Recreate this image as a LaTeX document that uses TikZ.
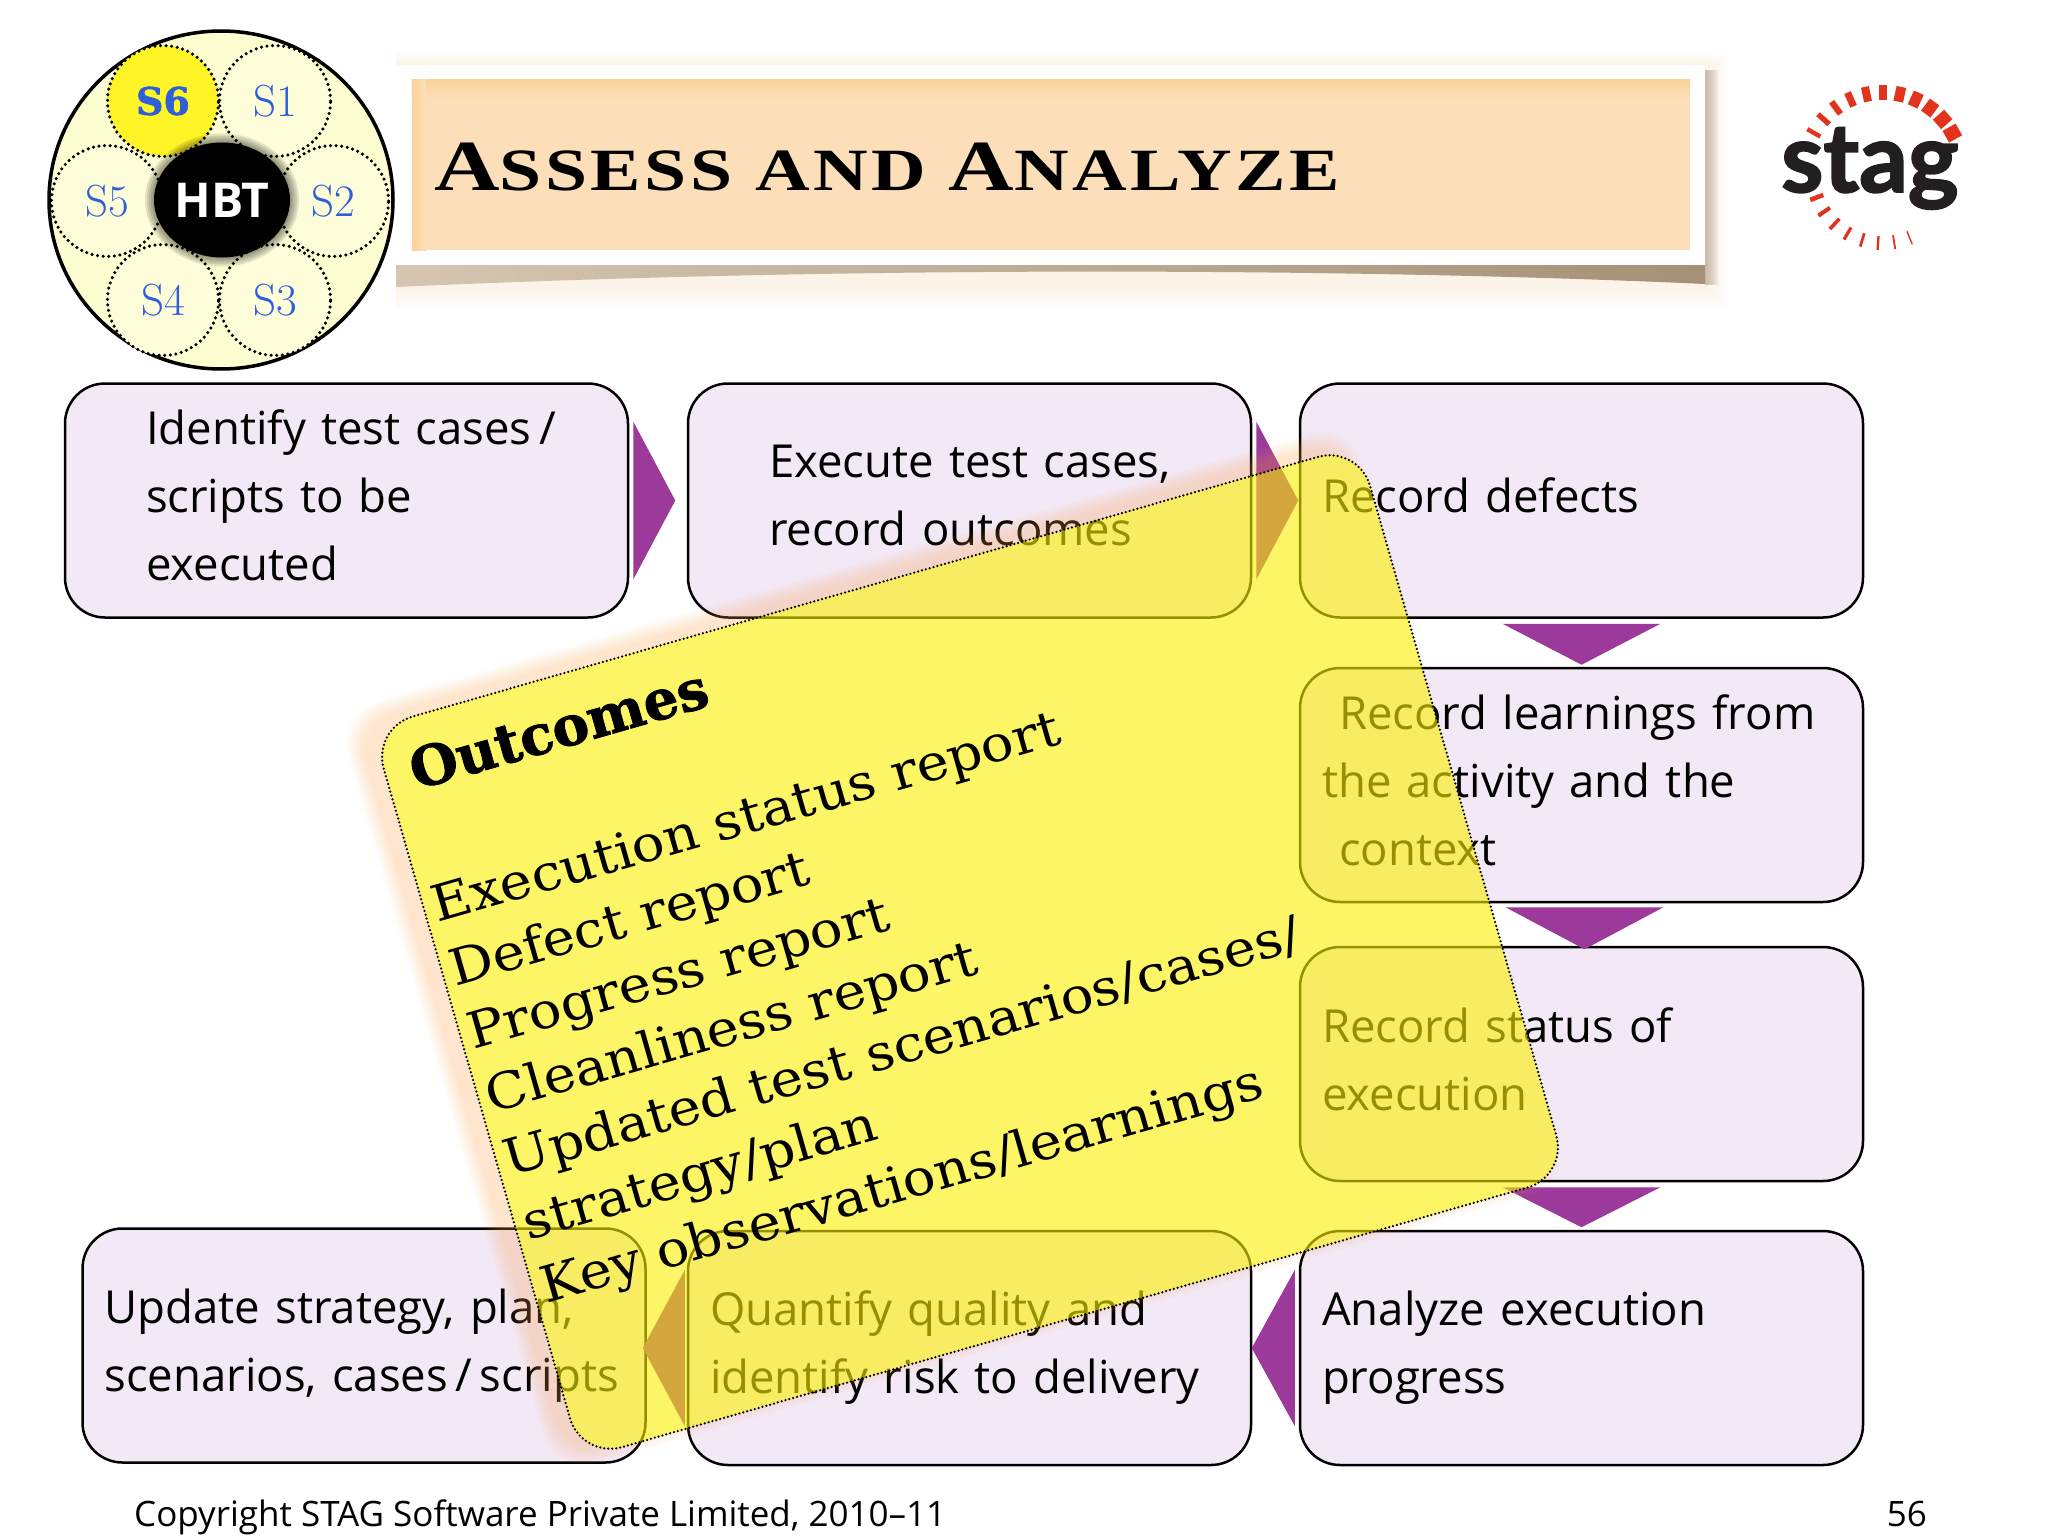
\documentclass[tikz,border=0pt]{standalone}
\usepackage{fontspec}
\usetikzlibrary{shapes.geometric}
\newfontfamily\bodyfam{Open Sans}
\newfontfamily\notefam[BoldFeatures={FakeBold=1.5}]{DejaVu Serif}
\newfontfamily\notewide[FakeStretch=1.09]{DejaVu Serif}
\newfontfamily\titlefam[FakeStretch=1.26,LetterSpace=6.0]{Liberation Serif}
\newfontfamily\logofam[BoldFeatures={FakeBold=2}]{Lato}
\definecolor{boxlilac}{HTML}{F3E8F5}
\definecolor{flowpurple}{HTML}{9C3A9B}
\definecolor{noteyellow}{HTML}{FAF000}
\definecolor{diskyellow}{HTML}{FDFDD2}
\definecolor{sblue}{HTML}{2F5FD8}
\definecolor{tickred}{HTML}{E2341D}
\definecolor{peach}{HTML}{FCDFB8}
\definecolor{peachedge}{HTML}{FAD29A}
\definecolor{logoink}{HTML}{231F20}
\newcommand{\titlecap}[1]{{\fontsize{72}{72}\selectfont #1}}
\newcommand{\lifted}{\rule[-10pt]{0pt}{0pt}}
\newcommand{\pad}{\hspace*{59pt}}
\tikzset{
  stepbox/.style={draw=black, line width=2.5pt, fill=boxlilac, rounded corners=40pt,
    minimum height=234pt, inner xsep=22pt, inner ysep=0pt, text width=519pt, align=left,
    font=\bodyfam\fontsize{45.5}{68}\selectfont},
  flow/.style={fill=flowpurple},
  stage/.style={circle, draw=black, line width=3.5pt, dash pattern=on 0pt off 5.6pt, line cap=round,
    fill=diskyellow!85!white, minimum size=111pt, inner sep=0pt, text=sblue,
    font=\fontsize{45}{45}\selectfont},
  noteline/.style={transform shape, anchor=base west, inner sep=0pt, font=\notewide\fontsize{50}{50}\selectfont},
  even odd clip/.code={\pgfseteorule}
}

\begin{document}
\begin{tikzpicture}[x=1pt,y=-1pt]
  \useasboundingbox (0,0) rectangle (2048,1536);
  \fill[white] (0,0) rectangle (2048,1536);
  % stage wheel
  \node[ellipse, draw=black, line width=3.5pt, fill=diskyellow, minimum width=344pt, minimum height=338pt, inner sep=0pt] (wheel) at (221,200) {};
  \node[stage] (s1) at (275,101) {S1};
  \node[stage] (s2) at (333,201) {S2};
  \node[stage] (s3) at (275,300) {S3};
  \node[stage] (s4) at (163,300) {S4};
  \node[stage] (s5) at (107,201) {S5};
  \node[stage, fill=yellow!85!white, font=\notefam\bfseries\fontsize{38}{38}\selectfont] (s6) at (163,101) {S6};
  \foreach \g in {1,3,...,9}
    \fill[black, opacity=0.1] (222,200) ellipse ({68+\g} and {57.5+\g});
  \node[ellipse, fill=black, text=white, minimum width=136pt, minimum height=115pt, inner sep=0pt,
    font=\bodyfam\bfseries\fontsize{48}{48}\selectfont] (hbt) at (222,200) {HBT};
  % title panel
  \foreach \g in {4,8,...,24}
    \fill[peach, opacity=0.05] (396,65-\g/2) rectangle (1705+\g,285+\g);
  \foreach \g in {2,4,...,14}
    \fill[black!35!peach, opacity=0.1] (1705,70) rectangle (1705+\g,285);
  \shade[left color=black!22!peach!70!white, right color=black!35!peach] (396,265) -- (1705,265) -- (1705,284) .. controls (1400,270) and (900,264) .. (396,287) -- cycle;
  \node[fill=white, minimum width=1309pt, minimum height=200pt, inner sep=0pt] (panel) at (1050.5,165) {};
  \node[fill=peach, minimum width=1278pt, minimum height=170pt, inner sep=0pt] (band) at (1051,165) {};
  \shade[top color=peachedge, bottom color=peach] (band.north west) rectangle ([shift={(0,20)}]band.north east);
  \shade[left color=peachedge, right color=peach] (band.north west) rectangle ([shift={(14,0)}]band.south west);
  \node[anchor=base west, inner sep=0pt, font=\titlefam\bfseries\fontsize{60}{60}\selectfont] (title) at (434,190)
    {\titlecap{A}SSESS AND \titlecap{A}NALYZE};
  % logo
  \node[anchor=base west, inner sep=0pt, text=logoink, font=\logofam\bfseries\fontsize{96}{96}\selectfont] (stag) at (1781,192) {stag};
  \begin{scope}[shift={(1883,172)}]
    \foreach \a [count=\i] in {150.5,138.4,126.2,114.1,102,90,77.8,65.7,53.6,41.4,29.3}
      \draw[tickred, line width={3.5+0.9*\i}] (-\a:72) -- (-\a:87);
    \foreach \a [count=\i] in {201,214,227,240,253,266,279,292}
      \draw[tickred, line width={5-0.45*\i}] (-\a:64) -- (-\a:78);
  \end{scope}
  % process boxes
  \node[stepbox] (identify) at (346.5,500.5) {\pad Identify test cases\,/\\\pad scripts to be\\\pad executed\lifted};
  \node[stepbox] (execute) at (969.5,500.5) {\pad Execute test cases,\\\pad record outcomes\lifted};
  \node[stepbox] (defects) at (1581.5,500.5) {Record defects\lifted};
  \node[stepbox] (learnings) at (1581.5,785) {\hspace*{17pt}Record learnings from\\the activity and the\\\hspace*{17pt}context\lifted};
  \node[stepbox] (status) at (1581.5,1064) {Record status of\\execution\lifted};
  \node[stepbox] (analyze) at (1581.5,1348) {Analyze execution\\progress};
  \node[stepbox] (quantify) at (969.5,1348) {Quantify quality and\\identify risk to delivery};
  \node[stepbox] (update) at (364,1345.5) {Update strategy, plan,\\scenarios, cases\,/\,scripts};
  % flow arrows
  \fill[flow] ([shift={(4,-79)}]identify.east) -- ([shift={(46,0)}]identify.east) -- ([shift={(4,79)}]identify.east) -- cycle;
  \fill[flow] ([shift={(4,-79)}]execute.east) -- ([shift={(46,0)}]execute.east) -- ([shift={(4,79)}]execute.east) -- cycle;
  \fill[flow] ([shift={(-79,5)}]defects.south) -- ([shift={(0,46)}]defects.south) -- ([shift={(79,5)}]defects.south) -- cycle;
  \fill[flow] ([shift={(-76,4)}]learnings.south) -- ([shift={(3,46)}]learnings.south) -- ([shift={(82,4)}]learnings.south) -- cycle;
  \fill[flow] ([shift={(-79,5)}]status.south) -- ([shift={(0,45)}]status.south) -- ([shift={(79,5)}]status.south) -- cycle;
  \fill[flow] ([shift={(-4,-78)}]analyze.west) -- ([shift={(-47,0)}]analyze.west) -- ([shift={(-4,78)}]analyze.west) -- cycle;
  \fill[flow] ([shift={(-2,-78)}]quantify.west) -- ([shift={(-44,0)}]quantify.west) -- ([shift={(-2,78)}]quantify.west) -- cycle;
  % outcomes note
  \begin{scope}[shift={(970,952)},rotate=16]
    \clip[even odd clip] (-1500,-1500) rectangle (1500,1500) [rounded corners=42] (-513,-380) rectangle (513,380);
    \foreach \g in {2,4,...,16}
      \fill[orange!60!peach, opacity=0.035, rounded corners=42] (-527-\g,-388-\g) rectangle (495+\g,372+\g);
  \end{scope}
  \node[rotate=16, draw=black, line width=2.5pt, dash pattern=on 0pt off 4pt, line cap=round, fill=noteyellow, fill opacity=0.6, draw opacity=1,
    rounded corners=42pt, minimum width=1026pt, minimum height=760pt, inner sep=0pt] (note) at (970,952) {};
  \begin{scope}[shift={(416,790)},rotate=16]
    \node[noteline, font=\notefam\bfseries\fontsize{55}{55}\selectfont] (heading) at (0,0) {Outcomes};
  \end{scope}
  \begin{scope}[shift={(437,923)},rotate=16]
    \foreach \txt [count=\i from 0] in {Execution status report,Defect report,Progress report,Cleanliness report,Updated test scenarios/cases/,strategy/plan,Key observations/learnings}
      \node[noteline] (item\i) at (0,66*\i) {\txt};
  \end{scope}
  % footer
  \node[anchor=base west, inner sep=0pt, font=\bodyfam\fontsize{35}{35}\selectfont] (copyright) at (134,1526) {Copyright STAG Software Private Limited, 2010–11};
  \node[anchor=base east, inner sep=0pt, font=\bodyfam\fontsize{35}{35}\selectfont] (pageno) at (1927,1526) {56};
\end{tikzpicture}
\end{document}
